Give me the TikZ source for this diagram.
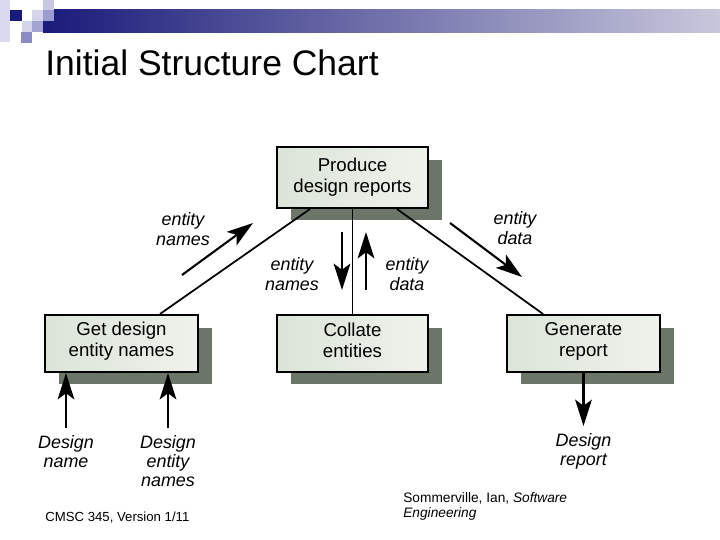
\documentclass[tikz,border=0pt]{standalone}
\usepackage{fontspec}
\setmainfont{Liberation Sans}
\usetikzlibrary{arrows.meta,shadows,calc}
\definecolor{navy}{HTML}{1A1A7A}
\definecolor{barmid}{HTML}{7878A8}
\definecolor{barlight}{HTML}{C8C8DC}
\definecolor{sqa}{HTML}{DADAEE}
\definecolor{sqb}{HTML}{C8C8E4}
\definecolor{sqc}{HTML}{D4D4EC}
\definecolor{sqd}{HTML}{9C9CD0}
\definecolor{sqe}{HTML}{A4A4D4}
\definecolor{sqf}{HTML}{8C8CC4}
\definecolor{boxl}{HTML}{DCE4D8}
\definecolor{boxr}{HTML}{EEF2EC}
\definecolor{shadowc}{HTML}{6C7668}
\begin{document}
\begin{tikzpicture}[x=0.02cm,y=-0.02cm,
  box/.style={draw=black, line width=1.2pt, left color=boxl, right color=boxr,
    minimum width=3.06cm, minimum height=1.14cm, align=center, inner sep=0pt,
    font=\fontsize{10.6}{11.9}\selectfont,
    drop shadow={shadow xshift=0.28cm, shadow yshift=-0.25cm, fill=shadowc, opacity=1}},
  lbl/.style={font=\itshape\fontsize{10.2}{11}\selectfont, align=center, inner sep=0pt},
  dlbl/.style={lbl, outer xsep=0pt, outer ysep=4pt},
  conn/.style={line width=1pt},
  flow/.style={line width=1.2pt, -{Stealth[length=15pt, width=9.5pt, inset=3.5pt]}}]
\useasboundingbox (0,0) rectangle (720,540);
\fill[white] (0,0) rectangle (720,540);
% header decoration
\shade[left color=navy, middle color=barmid, right color=barlight] (43,10) rectangle (720,33);
\fill[sqa] (0,0) rectangle (10,42);
\fill[navy] (10,10) rectangle (22,21);
\fill[sqb] (43,0) rectangle (54,10);
\fill[sqc] (32,10) rectangle (43,21);
\fill[sqd] (43,10) rectangle (54,21);
\fill[sqc] (22,21) rectangle (32,32);
\fill[sqe] (32,21) rectangle (43,32);
\fill[sqf] (21,32) rectangle (32,43);
% title
\node[anchor=base west, inner sep=0pt, font=\fontsize{20.2}{24}\selectfont] (title) at (45,76) {Initial Structure Chart};
% boxes
\node[box, minimum width=3.02cm, minimum height=1.22cm] (prod) at (352.5,177.5) {Produce\\design reports};
\node[box, text depth=5pt] (get) at (121.5,343.5) {Get design\\entity names};
\node[box, text depth=4pt, minimum width=3.02cm] (coll) at (352.5,343.5) {Collate\\entities};
\node[box, text depth=5pt] (gen) at (583.5,343.5) {Generate\\report};
% connectors
\draw[conn] ($(prod.south)+(-42.5,0)$) -- ($(get.north)+(38.5,0)$);
\draw[conn] (prod.south) -- (coll.north);
\draw[conn] ($(prod.south)+(44.5,0)$) -- ($(gen.north)+(-40.5,0)$);
% couple labels
\node[lbl] (l1) at (183,229) {entity\\names};
\node[lbl] (l2) at (515,228) {entity\\data};
\node[lbl] (l3) at (292,274) {entity\\names};
\node[lbl] (l4) at (407,274) {entity\\data};
% couple arrows
\coordinate (f1a) at (182,275); \coordinate (f1b) at (253,223);
\coordinate (f2a) at (450,223); \coordinate (f2b) at (522,277);
\coordinate (f3a) at (342,232); \coordinate (f3b) at (342,290);
\coordinate (f4a) at (366,290); \coordinate (f4b) at (366,232);
\draw[flow] (f1a) -- (f1b);
\draw[flow] (f2a) -- (f2b);
\draw[flow] (f3a) -- (f3b);
\draw[flow] (f4a) -- (f4b);
% inputs / outputs
\node[dlbl, anchor=north] (dn) at (66,428) {Design\\name};
\node[dlbl, anchor=north] (den) at (168,428) {Design\\entity\\names};
\node[dlbl, anchor=north] (dr) at (583.5,426) {Design\\report};
\draw[flow] (dn.north) -- (dn.north |- get.south);
\draw[flow] (den.north) -- (den.north |- get.south);
\draw[flow] (gen.south) -- (dr.north);
% footer
\node[anchor=base west, inner sep=0pt, font=\fontsize{7.5}{9}\selectfont] (foot) at (45,521) {CMSC 345, Version 1/11};
\node[anchor=north west, inner sep=0pt, align=left, font=\fontsize{7.8}{8.6}\selectfont] (ref) at (403,492) {Sommerville, Ian, \textit{Software}\\\textit{Engineering}};
\end{tikzpicture}
\end{document}
